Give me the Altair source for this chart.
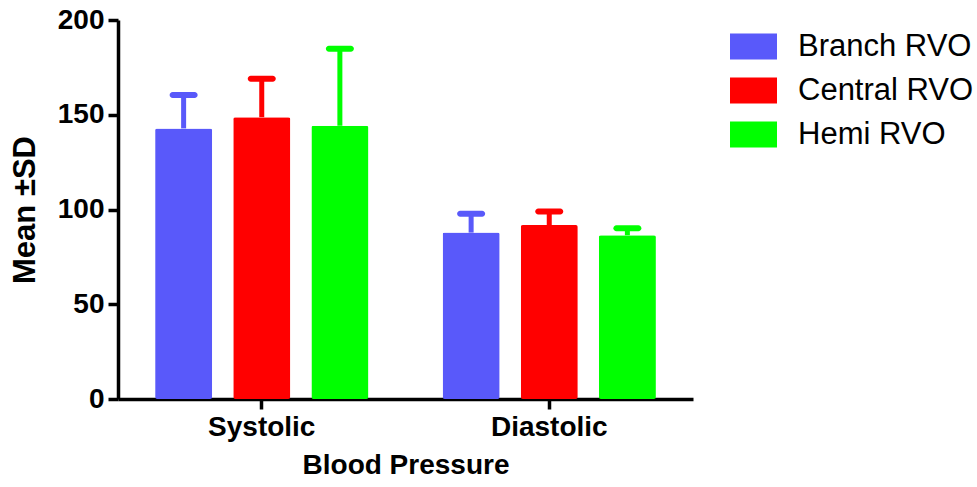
import altair as alt
import pandas as pd

groups = ["Branch RVO", "Central RVO", "Hemi RVO"]
pressure = ["Systolic", "Diastolic"]
colors = ["#5959FA", "#FF0000", "#00FF00"]

systolic_mean = [142.8, 148.7, 144.2]
systolic_sd = [17.6, 20.3, 40.6]
diastolic_mean = [87.8, 91.8, 86.4]
diastolic_sd = [9.9, 7.2, 3.7]

rows = []
for i, g in enumerate(groups):
    rows.append({"bp": "Systolic", "group": g, "mean": systolic_mean[i],
                 "top": systolic_mean[i] + systolic_sd[i], "hex": colors[i]})
for i, g in enumerate(groups):
    rows.append({"bp": "Diastolic", "group": g, "mean": diastolic_mean[i],
                 "top": diastolic_mean[i] + diastolic_sd[i], "hex": colors[i]})
df = pd.DataFrame(rows)

FONT = "Liberation Sans"

x = alt.X("bp:N", sort=pressure,
          scale=alt.Scale(paddingInner=0, paddingOuter=0),
          axis=alt.Axis(title="Blood Pressure", labelAngle=0, labelFontSize=28,
                        labelPadding=4, titleFontSize=28, titlePadding=10,
                        tickSize=10))
xo = alt.XOffset("group:N", sort=groups,
                 scale=alt.Scale(paddingInner=0.27, paddingOuter=0.475))
y = alt.Y("mean:Q", scale=alt.Scale(domain=[0, 200], nice=False),
          axis=alt.Axis(title="Mean ±SD", values=[0, 50, 100, 150, 200],
                        labelFontSize=28, labelPadding=4, titleFontSize=31,
                        titlePadding=16, tickSize=10))

base = alt.Chart(df)

bars = base.mark_bar(cornerRadius=2, opacity=1).encode(
    x=x, xOffset=xo, y=y,
    color=alt.Color("group:N", sort=groups,
                    scale=alt.Scale(domain=groups, range=colors),
                    legend=alt.Legend(title=None, orient="none", legendX=612, legendY=3,
                                      symbolType="M-1,-0.55L1,-0.55L1,0.55L-1,0.55Z",
                                      symbolSize=2209, symbolStrokeWidth=0,
                                      symbolOpacity=1,
                                      labelFontSize=31, labelFont=FONT,
                                      labelFontWeight="normal", labelColor="black",
                                      labelOffset=21, rowPadding=5, labelLimit=400)),
)

stems = base.mark_rule(strokeWidth=5, opacity=1).encode(
    x=x, xOffset=xo, y="mean:Q", y2="top:Q",
    color=alt.Color("hex:N", scale=None),
)

caps = base.mark_tick(thickness=6, size=28, cornerRadius=3, opacity=1).encode(
    x=x, xOffset=xo, y="top:Q",
    color=alt.Color("hex:N", scale=None),
)

chart = alt.layer(bars, stems, caps).properties(
    width=575, height=379,
    autosize=alt.AutoSizeParams(type="none"),
    padding={"left": 118, "top": 20, "right": 284, "bottom": 88},
).configure_view(stroke=None).configure_axis(
    domainColor="black", domainWidth=3.5, tickColor="black", tickWidth=3.5,
    labelFont=FONT, labelFontWeight="bold", labelColor="black",
    titleFont=FONT, titleFontWeight="bold", titleColor="black", grid=False,
)

chart.save("out.html", embed_options={"renderer": "svg", "actions": False})
